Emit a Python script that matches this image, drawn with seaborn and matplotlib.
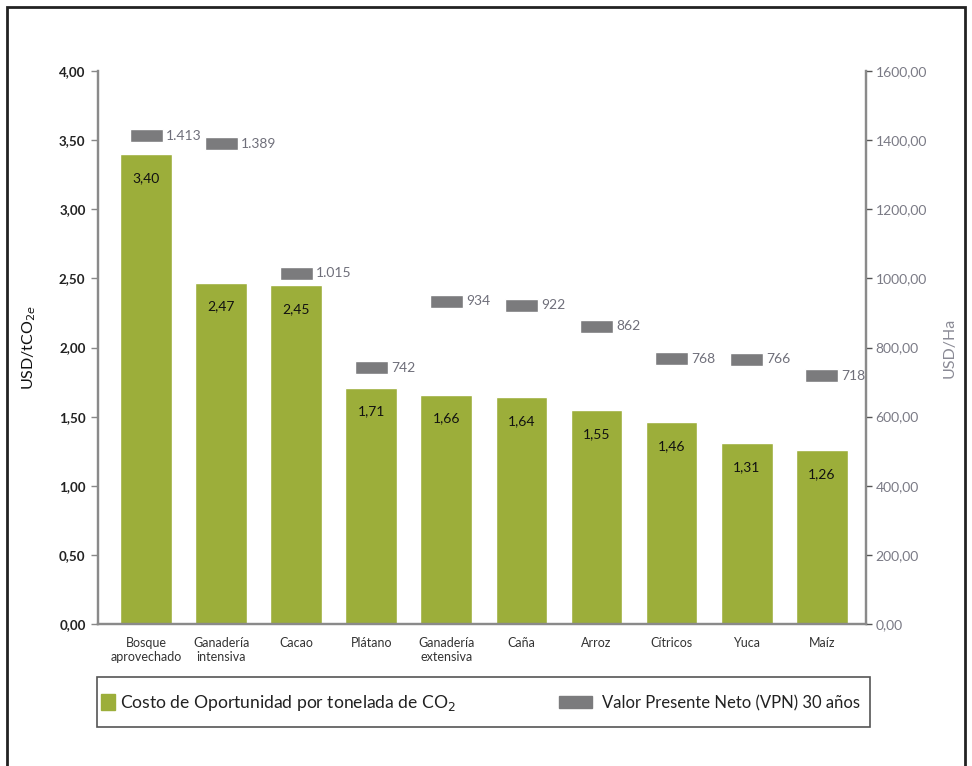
import matplotlib
matplotlib.use("Agg")
import matplotlib.pyplot as plt
import seaborn as sns
import numpy as np
import pandas as pd
from matplotlib.patches import Rectangle, Patch
from matplotlib.ticker import FuncFormatter

categories = ["Bosque\naprovechado", "Ganadería\nintensiva", "Cacao", "Plátano",
              "Ganadería\nextensiva", "Caña", "Arroz", "Cítricos", "Yuca", "Maíz"]
costo = [3.40, 2.47, 2.45, 1.71, 1.66, 1.64, 1.55, 1.46, 1.31, 1.26]
vpn = [1413, 1389, 1015, 742, 934, 922, 862, 768, 766, 718]
left_ticks = [0, 0.5, 1.0, 1.5, 2.0, 2.5, 3.0, 3.5, 4.0]
right_ticks = [0, 200, 400, 600, 800, 1000, 1200, 1400, 1600]

GREEN = "#9cae3a"
GRAY = "#7b7b7d"
TXT_GRAY = "#6f6f7a"

sns.set_style("white")
plt.rcParams['font.family'] = ['Lato', 'DejaVu Sans']

fig = plt.figure(figsize=(9.72, 7.66), dpi=100)
ax = fig.add_axes([98/972, 1-624/766, (866-98)/972, (624-71)/766])

df = pd.DataFrame({"cat": categories, "costo": costo})
sns.barplot(data=df, x="cat", y="costo", color=GREEN, saturation=1, width=0.69, ax=ax)
ax.set_ylim(0, 4.0)
ax.set_xlim(-0.64, 9.59)
ax.set_yticks(left_ticks)
ax.yaxis.set_major_formatter(FuncFormatter(lambda v, p: f"{v:.2f}".replace(".", ",")))
ax.tick_params(axis='y', which='both', left=True, length=5, width=1, color="#888888",
               labelsize=9.6, labelcolor="#222222", pad=4)
ax.tick_params(axis='x', bottom=False, labelsize=9, labelcolor="#333333", pad=6)
for lbl in ax.get_yticklabels():
    lbl.set_fontweight('bold')
ax.set_xlabel("")
ax.set_ylabel("USD/tCO$_{2e}$", fontsize=11.5, color="#111111")
ax.yaxis.set_label_coords((38-98)/768, 0.5)
ax.spines["top"].set_visible(False)
for s in ["left", "right", "bottom"]:
    ax.spines[s].set_color("#8a8a8a")
    ax.spines[s].set_linewidth(1.6)

for i, v in enumerate(costo):
    ax.annotate(f"{v:.2f}".replace(".", ","), (i, v), xytext=(0, -24),
                textcoords="offset pixels", ha="center", va="center",
                fontsize=10, color="#111111")

ax2 = ax.twinx()
ax2.set_ylim(0, 1600)
ax2.set_yticks(right_ticks)
ax2.yaxis.set_major_formatter(FuncFormatter(lambda v, p: f"{v:.2f}".replace(".", ",")))
ax2.tick_params(axis='y', right=True, length=4, width=1, color="#555555",
                labelsize=10, labelcolor="#7a7a85", pad=3)
ax2.spines["top"].set_visible(False)
for s in ["left", "right", "bottom"]:
    ax2.spines[s].set_color("#8a8a8a")
    ax2.spines[s].set_linewidth(1.6)
ax2.set_ylabel("USD/Ha", fontsize=11.5, color="#8a8a95")
ax2.yaxis.set_label_coords((943-98)/768, 0.5)

h = 38
x = np.arange(len(vpn))
ax2.bar(x, [h]*len(vpn), bottom=[v - h/2 for v in vpn], width=0.44, color=GRAY)
for i, v in enumerate(vpn):
    ax2.annotate(f"{v:,}".replace(",", "."), (i + 0.22, v), xytext=(3, 0),
                 textcoords="offset pixels", ha="left", va="center",
                 fontsize=10, color=TXT_GRAY)
ax2.set_xlim(-0.64, 9.59)

# legend frame
fig.add_artist(Rectangle((97/972, 1-727/766), (870-97)/972, 50/766,
                         transform=fig.transFigure, fill=False,
                         edgecolor="#555555", linewidth=1.2))
leg1 = fig.legend([Patch(facecolor=GREEN, edgecolor=GREEN)],
                  ["Costo de Oportunidad por tonelada de CO$_2$"],
                  loc="center left", bbox_to_anchor=(101/972, 1-703/766),
                  frameon=False, fontsize=12.6, handlelength=0.8, handleheight=1.1,
                  handletextpad=0.3, borderpad=0, borderaxespad=0)
leg2 = fig.legend([Patch(facecolor=GRAY, edgecolor=GRAY)],
                  ["Valor Presente Neto (VPN) 30 años"],
                  loc="center left", bbox_to_anchor=(559/972, 1-703/766),
                  frameon=False, fontsize=12.0, handlelength=2.0, handleheight=0.75,
                  handletextpad=0.6, borderpad=0, borderaxespad=0)
for lg in (leg1, leg2):
    for t in lg.get_texts():
        t.set_color("#222222")

fig.add_artist(Rectangle((7/972, -0.05), (965-7)/972, 1.05 - 7/766,
                         transform=fig.transFigure, fill=False,
                         edgecolor="#222222", linewidth=2))

fig.savefig("out.png", dpi=100)
